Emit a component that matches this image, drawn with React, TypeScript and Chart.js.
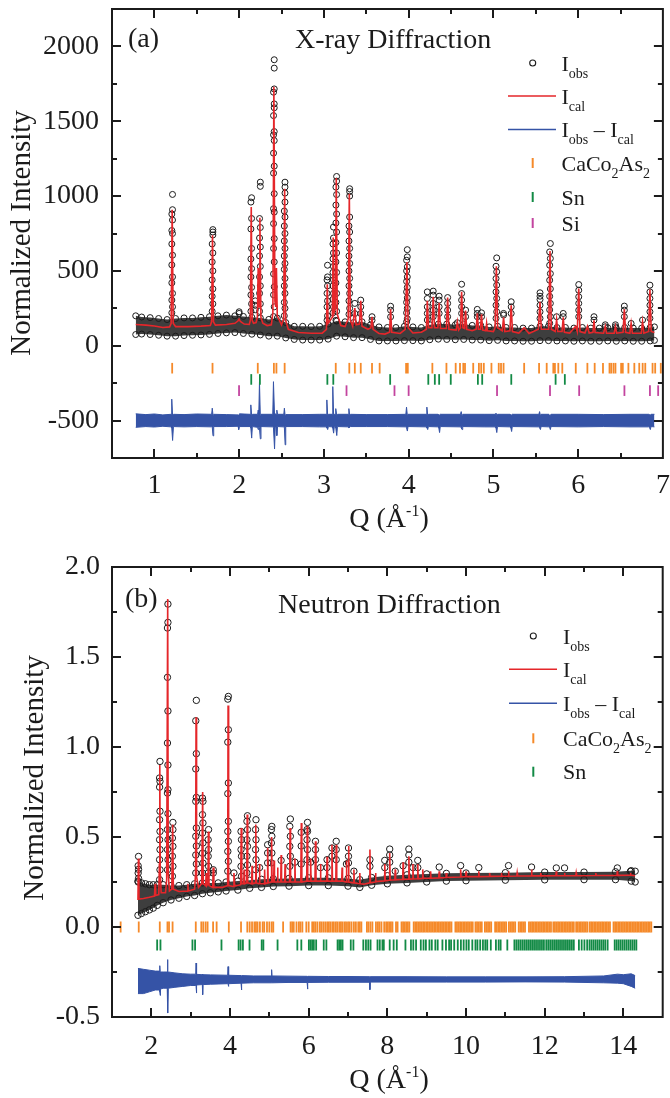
import React, { useEffect, useRef } from "react";
import { Chart, registerables } from "chart.js";

Chart.register(...registerables);

const SERIF = "'Liberation Serif', 'Times New Roman', Times, serif";
const RED = "#e5262a";
const BLUE = "#3553a6";
const ORANGE = "#f58a2a";
const GREEN = "#128a45";
const MAGENTA = "#c3449f";
const INK = "#1b1b1b";
const BAND = "#3e3e3e";

// ---------------- (a) X-ray diffraction ----------------
const xrdQRange = [0.5, 7];
const xrdIRange = [-750, 2250];
const xrdXTicks = [1, 2, 3, 4, 5, 6, 7];
const xrdYTicks = [-500, 0, 500, 1000, 1500, 2000];

// calculated profile [Q, I]
const xrdCalc: [number, number][] = [
  [0.78, 142], [0.9, 138], [1.0, 132], [1.1, 122], [1.18, 126], [1.198, 150], [1.21, 909], [1.222, 150], [1.25, 128],
  [1.4, 128], [1.55, 131], [1.66, 135], [1.675, 160], [1.686, 738], [1.697, 160], [1.72, 138], [1.85, 142], [1.95, 150],
  [1.985, 165], [2.0, 178], [2.015, 162], [2.06, 145], [2.12, 142], [2.132, 170], [2.143, 927], [2.154, 170], [2.17, 150],
  [2.2, 155], [2.215, 190], [2.225, 520], [2.235, 260], [2.245, 856], [2.257, 190], [2.28, 150], [2.33, 135], [2.38, 140],
  [2.398, 220], [2.41, 1731], [2.422, 300], [2.432, 260], [2.44, 520], [2.45, 200], [2.5, 140], [2.525, 180], [2.537, 1049],
  [2.549, 170], [2.58, 110], [2.7, 88], [2.85, 84], [2.98, 84], [3.03, 110], [3.04, 411], [3.05, 150], [3.1, 190], [3.11, 723],
  [3.12, 220], [3.135, 250], [3.146, 1120], [3.158, 210], [3.2, 135], [3.25, 128], [3.287, 180], [3.3, 1016], [3.312, 170],
  [3.34, 130], [3.365, 251], [3.38, 140], [3.42, 145], [3.435, 300], [3.45, 130], [3.52, 110], [3.555, 120], [3.568, 194],
  [3.58, 110], [3.65, 82], [3.72, 78], [3.775, 90], [3.787, 243], [3.8, 90], [3.9, 82], [3.96, 110], [3.98, 560], [3.995, 120],
  [4.05, 85], [4.15, 90], [4.21, 110], [4.22, 300], [4.235, 120], [4.275, 120], [4.29, 327], [4.305, 120], [4.345, 120],
  [4.36, 287], [4.375, 115], [4.445, 115], [4.46, 322], [4.475, 110], [4.56, 105], [4.575, 160], [4.59, 105], [4.612, 120],
  [4.625, 360], [4.64, 120], [4.66, 115], [4.672, 236], [4.685, 110], [4.75, 100], [4.797, 110], [4.81, 216], [4.823, 110],
  [4.847, 110], [4.86, 210], [4.873, 105], [4.91, 100], [4.92, 150], [4.93, 100], [5.0, 95], [5.02, 120], [5.035, 531],
  [5.05, 120], [5.105, 100], [5.12, 190], [5.135, 95], [5.195, 100], [5.21, 271], [5.225, 95], [5.3, 85], [5.363, 120],
  [5.42, 82], [5.53, 110], [5.55, 293], [5.565, 110], [5.653, 110], [5.668, 633], [5.683, 110], [5.73, 95], [5.746, 175],
  [5.76, 95], [5.81, 95], [5.824, 190], [5.838, 90], [5.9, 85], [5.97, 130], [5.99, 95], [6.007, 383], [6.022, 95], [6.08, 85],
  [6.11, 130], [6.13, 85], [6.175, 90], [6.187, 170], [6.2, 88], [6.3, 84], [6.32, 130], [6.335, 84], [6.425, 84], [6.44, 130],
  [6.455, 84], [6.53, 90], [6.545, 243], [6.56, 90], [6.61, 84], [6.625, 150], [6.64, 84], [6.745, 84], [6.76, 160],
  [6.775, 84], [6.832, 95], [6.847, 376], [6.862, 95], [6.9, 88],
];

// observed points on the peaks: [Q, intensities]
const xrdObsCols: [number, number[]][] = [
  [1.206, [220, 305, 420, 540, 680, 770, 880]],
  [1.214, [260, 350, 460, 605, 750, 840, 909, 1011]],
  [1.682, [230, 330, 440, 560, 680]],
  [1.69, [280, 380, 500, 620, 740, 760, 776]],
  [2.0, [216, 227]],
  [2.139, [230, 340, 460, 580, 780, 960]],
  [2.147, [280, 390, 515, 650, 850, 989]],
  [2.19, [240, 270, 300]],
  [2.241, [230, 350, 460, 600, 720, 850]],
  [2.25, [280, 400, 530, 660, 790, 1065, 1093]],
  [2.406, [195, 340, 480, 650, 816, 916, 1153, 1287, 1409, 1538, 1694]],
  [2.414, [260, 394, 560, 716, 893, 1016, 1200, 1371, 1431, 1590, 1616, 1716, 1855, 1911]],
  [2.533, [200, 290, 400, 510, 600, 700, 800, 900]],
  [2.541, [250, 350, 450, 550, 650, 750, 860, 960, 1020, 1060, 1093]],
  [3.037, [170, 260, 350, 440]],
  [3.043, [200, 300, 400, 460, 538]],
  [3.107, [220, 310, 400, 490, 580, 680]],
  [3.113, [260, 350, 440, 530, 620, 720, 793]],
  [3.142, [170, 290, 420, 560, 690, 820, 940, 1060]],
  [3.15, [230, 350, 490, 620, 760, 880, 1010, 1100, 1131]],
  [3.296, [210, 300, 400, 500, 600, 700, 800]],
  [3.304, [250, 350, 450, 550, 650, 760, 860, 1000, 1030, 1049]],
  [3.365, [215, 283]],
  [3.435, [215, 260, 305]],
  [3.568, [170, 194]],
  [3.787, [193, 238, 264]],
  [3.976, [160, 220, 290, 360, 430, 500, 571]],
  [3.984, [180, 250, 320, 390, 460, 527, 594, 642]],
  [4.22, [172, 216, 260, 316, 360]],
  [4.29, [194, 238, 283, 338, 365]],
  [4.36, [216, 260, 305, 331]],
  [4.46, [194, 238, 283, 322]],
  [4.575, [154]],
  [4.625, [216, 260, 305, 349, 411]],
  [4.672, [194, 238]],
  [4.81, [194, 216, 243]],
  [4.86, [194, 220]],
  [5.031, [183, 271, 360, 449, 531]],
  [5.039, [227, 316, 405, 494, 587]],
  [5.12, [205, 216]],
  [5.21, [216, 260, 294]],
  [5.55, [183, 227, 271, 309, 331, 354]],
  [5.664, [150, 240, 330, 438, 538, 627]],
  [5.672, [194, 283, 380, 482, 583, 683]],
  [5.746, [194]],
  [5.824, [194, 216]],
  [6.007, [194, 238, 283, 327, 371, 409]],
  [6.187, [172, 194]],
  [6.32, [127, 140]],
  [6.44, [127, 140]],
  [6.545, [194, 238, 265]],
  [6.625, [149]],
  [6.76, [172]],
  [6.847, [183, 227, 271, 316, 360, 405]],
];

// dense observed band along background: [Q, upper, lower]
const xrdObsBand: [number, number, number][] = [
  [0.78, 200, 75], [0.85, 192, 78], [0.95, 188, 75], [1.05, 182, 70], [1.15, 175, 64], [1.25, 182, 64], [1.35, 186, 68],
  [1.45, 186, 70], [1.55, 190, 72], [1.65, 194, 76], [1.75, 200, 82], [1.85, 205, 86], [1.95, 200, 88], [2.05, 196, 82],
  [2.15, 190, 77], [2.25, 186, 72], [2.35, 176, 64], [2.45, 185, 64], [2.55, 155, 52], [2.65, 130, 42], [2.75, 130, 38],
  [2.85, 128, 38], [2.95, 130, 38], [3.05, 145, 44], [3.15, 165, 64], [3.25, 160, 60], [3.35, 155, 54], [3.45, 160, 54],
  [3.55, 140, 42], [3.65, 126, 32], [3.75, 122, 32], [3.85, 122, 32], [3.95, 130, 34], [4.05, 126, 34], [4.15, 122, 32],
  [4.25, 140, 40], [4.35, 145, 44], [4.45, 145, 42], [4.55, 140, 40], [4.65, 145, 42], [4.75, 136, 38], [4.85, 136, 38],
  [4.95, 126, 34], [5.05, 130, 36], [5.15, 122, 32], [5.25, 122, 32], [5.35, 118, 30], [5.45, 118, 30], [5.55, 130, 34],
  [5.65, 130, 34], [5.75, 122, 32], [5.85, 122, 32], [5.95, 118, 30], [6.05, 122, 32], [6.15, 118, 30], [6.25, 118, 30],
  [6.35, 120, 32], [6.45, 118, 30], [6.55, 122, 32], [6.65, 118, 30], [6.75, 118, 30], [6.85, 122, 32], [6.9, 126, 36],
];

// difference curve band: [Q, upper, lower]
const xrdDiff: [number, number, number][] = [
  [0.78, -455, -545], [0.9, -460, -540], [1.0, -456, -543], [1.1, -462, -538], [1.197, -458, -542], [1.205, -357, -548],
  [1.215, -470, -633], [1.225, -458, -540], [1.35, -460, -542], [1.5, -456, -540], [1.676, -458, -542], [1.683, -417, -545],
  [1.692, -465, -602], [1.7, -458, -540], [1.85, -460, -540], [1.988, -462, -538], [1.995, -470, -560], [2.003, -455, -540],
  [2.13, -458, -540], [2.138, -395, -548], [2.148, -470, -617], [2.156, -458, -540], [2.218, -458, -545], [2.225, -430, -560],
  [2.232, -460, -545], [2.24, -240, -548], [2.25, -470, -622], [2.258, -458, -540], [2.397, -458, -542], [2.405, -240, -548],
  [2.418, -470, -690], [2.426, -455, -545], [2.437, -458, -542], [2.445, -430, -600], [2.453, -458, -540], [2.527, -458, -542],
  [2.534, -417, -548], [2.543, -470, -662], [2.55, -460, -540], [2.75, -460, -540], [2.95, -458, -542], [3.027, -458, -542],
  [3.035, -362, -548], [3.045, -470, -560], [3.053, -458, -540], [3.097, -458, -542], [3.105, -273, -550], [3.115, -470, -584],
  [3.123, -458, -540], [3.133, -458, -542], [3.14, -420, -548], [3.152, -470, -600], [3.16, -458, -540], [3.288, -458, -542],
  [3.295, -420, -548], [3.305, -470, -545], [3.313, -458, -540], [3.5, -460, -540], [3.75, -460, -540], [3.967, -458, -542],
  [3.975, -410, -548], [3.985, -468, -570], [3.993, -458, -540], [4.207, -458, -542], [4.215, -410, -548], [4.225, -468, -560],
  [4.233, -458, -540], [4.347, -458, -542], [4.355, -470, -546], [4.365, -462, -580], [4.373, -458, -540], [4.612, -458, -542],
  [4.62, -440, -548], [4.63, -468, -560], [4.638, -458, -540], [4.9, -458, -542], [5.022, -458, -542], [5.03, -450, -548],
  [5.04, -468, -580], [5.048, -458, -540], [5.197, -458, -542], [5.205, -470, -546], [5.215, -462, -573], [5.223, -458, -540],
  [5.537, -458, -542], [5.545, -440, -548], [5.555, -468, -560], [5.563, -458, -540], [5.656, -458, -542], [5.664, -470, -546],
  [5.672, -462, -560], [5.68, -458, -540], [6.0, -458, -542], [6.3, -460, -540], [6.6, -458, -542], [6.834, -458, -542],
  [6.842, -460, -546], [6.852, -462, -560], [6.86, -458, -540], [6.9, -458, -542],
];

const xrdBraggCaCo2As2 = [
  1.21, 1.686, 2.22, 2.41, 2.44, 2.537, 3.14, 3.3, 3.365, 3.435, 3.568, 3.658, 3.97, 3.99, 4.28, 4.446, 4.555, 4.606,
  4.645, 4.665, 4.762, 4.829, 4.856, 4.887, 4.977, 5.063, 5.09, 5.12, 5.363, 5.539, 5.629, 5.707, 5.726, 5.766, 5.813,
  5.972, 6.109, 6.195, 6.293, 6.37, 6.39, 6.417, 6.44, 6.507, 6.527, 6.593, 6.663, 6.721, 6.761, 6.792, 6.878, 6.909, 6.975,
];
const xrdBraggSn = [2.143, 2.245, 3.041, 3.111, 3.782, 4.232, 4.309, 4.36, 4.497, 4.817, 4.868, 5.211, 5.734, 5.843];
const xrdBraggSi = [1.999, 3.267, 3.833, 4.0, 5.043, 5.668, 6.012, 6.546, 6.847, 6.944];
const xrdBraggLevels = [-150, -225, -300];

// ---------------- (b) Neutron diffraction ----------------
const ndQRange = [1, 15];
const ndIRange = [-0.5, 2.0];
const ndXTicks = [2, 4, 6, 8, 10, 12, 14];
const ndYTicks = [-0.5, 0, 0.5, 1.0, 1.5, 2.0];

const ndCalc: [number, number][] = [
  [1.66, 0.15], [1.672, 0.38], [1.685, 0.155], [1.8, 0.158], [1.95, 0.165], [2.08, 0.172], [2.095, 0.24], [2.11, 0.175],
  [2.19, 0.18], [2.205, 0.35], [2.215, 0.9], [2.227, 0.3], [2.25, 0.19], [2.36, 0.19], [2.39, 0.26], [2.416, 1.822],
  [2.43, 0.3], [2.46, 0.2], [2.52, 0.21], [2.542, 0.57], [2.56, 0.21], [2.7, 0.197], [2.92, 0.2], [2.93, 0.24], [2.94, 0.2],
  [3.1, 0.21], [3.125, 0.3], [3.137, 1.165], [3.15, 0.28], [3.2, 0.22], [3.28, 0.24], [3.305, 0.75], [3.32, 0.24],
  [3.38, 0.23], [3.395, 0.3], [3.41, 0.23], [3.44, 0.24], [3.45, 0.53], [3.465, 0.23], [3.56, 0.22], [3.574, 0.33],
  [3.59, 0.22], [3.8, 0.22], [3.94, 0.23], [3.951, 1.23], [3.965, 0.23], [4.08, 0.225], [4.1, 0.3], [4.12, 0.228],
  [4.27, 0.235], [4.286, 0.55], [4.3, 0.24], [4.35, 0.24], [4.36, 0.32], [4.37, 0.24], [4.425, 0.245], [4.437, 0.625],
  [4.45, 0.245], [4.55, 0.24], [4.56, 0.34], [4.57, 0.24], [4.64, 0.245], [4.655, 0.57], [4.67, 0.245], [4.74, 0.24],
  [4.75, 0.35], [4.76, 0.24], [4.87, 0.24], [4.88, 0.32], [4.89, 0.24], [4.945, 0.245], [4.957, 0.44], [4.97, 0.245],
  [5.045, 0.25], [5.058, 0.5], [5.07, 0.25], [5.11, 0.25], [5.12, 0.37], [5.13, 0.25], [5.2, 0.25], [5.21, 0.33],
  [5.22, 0.25], [5.29, 0.25], [5.3, 0.4], [5.31, 0.25], [5.39, 0.25], [5.4, 0.35], [5.41, 0.25], [5.515, 0.25],
  [5.527, 0.55], [5.54, 0.25], [5.64, 0.25], [5.65, 0.38], [5.66, 0.25], [5.8, 0.25], [5.813, 0.578], [5.826, 0.25],
  [5.95, 0.255], [5.963, 0.56], [5.976, 0.255], [6.04, 0.255], [6.05, 0.38], [6.06, 0.255], [6.16, 0.255], [6.173, 0.476],
  [6.186, 0.255], [6.29, 0.255], [6.3, 0.35], [6.31, 0.255], [6.455, 0.255], [6.467, 0.39], [6.48, 0.255], [6.58, 0.255],
  [6.592, 0.457], [6.605, 0.255], [6.69, 0.255], [6.701, 0.457], [6.713, 0.255], [6.84, 0.255], [6.85, 0.33], [6.86, 0.255],
  [6.95, 0.25], [6.96, 0.37], [6.97, 0.25], [7.0, 0.25], [7.012, 0.45], [7.025, 0.25], [7.14, 0.245], [7.15, 0.32],
  [7.16, 0.245], [7.29, 0.24], [7.3, 0.3], [7.31, 0.24], [7.4, 0.238], [7.545, 0.245], [7.557, 0.43], [7.57, 0.245],
  [7.69, 0.25], [7.7, 0.3], [7.71, 0.252], [7.92, 0.256], [7.934, 0.35], [7.948, 0.256], [8.048, 0.26], [8.06, 0.411],
  [8.072, 0.26], [8.19, 0.262], [8.2, 0.32], [8.21, 0.262], [8.39, 0.265], [8.4, 0.36], [8.41, 0.265], [8.535, 0.266],
  [8.547, 0.393], [8.56, 0.266], [8.64, 0.267], [8.65, 0.35], [8.66, 0.267], [8.76, 0.268], [8.773, 0.35], [8.786, 0.268],
  [8.89, 0.27], [8.9, 0.32], [8.91, 0.27], [9.09, 0.271], [9.1, 0.31], [9.11, 0.271], [9.305, 0.273], [9.318, 0.31],
  [9.33, 0.273], [9.49, 0.275], [9.5, 0.3], [9.51, 0.275], [9.85, 0.278], [9.863, 0.32], [9.876, 0.278], [9.99, 0.28],
  [10.0, 0.31], [10.01, 0.28], [10.315, 0.28], [10.325, 0.31], [10.335, 0.28], [10.59, 0.281], [10.6, 0.3], [10.61, 0.281],
  [10.89, 0.282], [10.9, 0.3], [10.91, 0.282], [11.07, 0.282], [11.08, 0.31], [11.09, 0.282], [11.29, 0.283], [11.3, 0.3],
  [11.31, 0.283], [11.655, 0.284], [11.666, 0.32], [11.677, 0.284], [11.89, 0.284], [11.9, 0.3], [11.91, 0.284],
  [12.285, 0.285], [12.295, 0.31], [12.305, 0.285], [12.495, 0.285], [12.505, 0.3], [12.515, 0.285], [12.79, 0.285],
  [12.8, 0.3], [12.81, 0.285], [13.29, 0.286], [13.3, 0.3], [13.31, 0.286], [13.837, 0.287], [13.847, 0.31], [13.857, 0.287],
  [14.17, 0.288], [14.18, 0.3], [14.19, 0.288], [14.3, 0.285],
];

const ndObsCols: [number, number[]][] = [
  [1.665, [0.25, 0.3, 0.34]], [1.675, [0.27, 0.32, 0.392]],
  [2.21, [0.263, 0.374, 0.485, 0.596, 0.777, 0.828]], [2.22, [0.318, 0.43, 0.531, 0.643, 0.809, 0.92]],
  [2.41, [0.318, 0.43, 0.541, 0.744, 1.022, 1.387, 1.661]], [2.422, [0.374, 0.485, 0.63, 0.763, 0.9, 1.2, 1.692, 1.794]],
  [2.536, [0.282, 0.393, 0.494]], [2.548, [0.337, 0.448, 0.541, 0.581]],
  [3.13, [0.3, 0.4, 0.504, 0.698, 0.878, 1.146]], [3.144, [0.35, 0.45, 0.55, 0.72, 0.963, 1.259]],
  [3.3, [0.3, 0.41, 0.522, 0.624, 0.716]], [3.312, [0.355, 0.467, 0.578, 0.698]],
  [3.445, [0.3, 0.393, 0.485]], [3.455, [0.337, 0.43, 0.541]],
  [3.574, [0.3, 0.318]],
  [3.944, [0.31, 0.42, 0.531, 0.741, 1.027, 1.266]], [3.958, [0.365, 0.476, 0.587, 0.8, 1.096, 1.281]],
  [4.1, [0.3]],
  [4.28, [0.337, 0.43, 0.531]], [4.292, [0.282, 0.393, 0.485]],
  [4.43, [0.3, 0.393, 0.485, 0.587]], [4.444, [0.345, 0.448, 0.541, 0.618]],
  [4.65, [0.318, 0.43, 0.541]], [4.66, [0.374, 0.485, 0.596]],
  [4.75, [0.33]],
  [4.957, [0.356, 0.411, 0.457]],
  [5.052, [0.356, 0.467, 0.541]], [5.064, [0.411, 0.504, 0.559]],
  [5.3, [0.37]],
  [5.52, [0.337, 0.448, 0.559]], [5.534, [0.393, 0.504, 0.6]],
  [5.65, [0.36]],
  [5.81, [0.35, 0.45, 0.526]],
  [5.958, [0.374, 0.485, 0.541]], [5.97, [0.43, 0.531, 0.581]],
  [6.05, [0.36]],
  [6.173, [0.374, 0.43, 0.476]],
  [6.3, [0.33]],
  [6.467, [0.33, 0.374]],
  [6.592, [0.393, 0.439]],
  [6.7, [0.374, 0.43, 0.476]],
  [6.96, [0.35]],
  [7.012, [0.356, 0.393, 0.439]],
  [7.15, [0.31]],
  [7.557, [0.337, 0.374]],
  [7.934, [0.33, 0.37]],
  [8.06, [0.36, 0.4, 0.433]],
  [8.2, [0.31]],
  [8.4, [0.34]],
  [8.547, [0.36, 0.4, 0.433]],
  [8.65, [0.33]],
  [8.773, [0.33, 0.37]],
  [9.318, [0.333]],
  [9.863, [0.341]],
  [10.325, [0.33]],
  [11.08, [0.341]],
  [11.666, [0.333]],
  [12.295, [0.328]],
  [12.505, [0.328]],
  [13.847, [0.328]],
  [14.18, [0.309]],
];

const ndObsBand: [number, number, number][] = [
  [1.66, 0.255, 0.065], [1.75, 0.245, 0.075], [1.85, 0.24, 0.085], [1.95, 0.235, 0.095], [2.05, 0.235, 0.105], [2.15, 0.235, 0.12],
  [2.3, 0.235, 0.135], [2.5, 0.23, 0.15], [2.7, 0.23, 0.16], [2.9, 0.235, 0.17], [3.1, 0.24, 0.175], [3.3, 0.245, 0.185],
  [3.5, 0.245, 0.19], [3.7, 0.245, 0.195], [3.9, 0.25, 0.2], [4.2, 0.255, 0.205], [4.5, 0.26, 0.215], [4.8, 0.265, 0.22],
  [5.1, 0.268, 0.225], [5.5, 0.27, 0.227], [6.0, 0.273, 0.23], [6.5, 0.273, 0.23], [7.0, 0.27, 0.227], [7.3, 0.263, 0.22],
  [7.6, 0.275, 0.232], [8.0, 0.285, 0.24], [8.5, 0.29, 0.245], [9.0, 0.295, 0.25], [9.5, 0.298, 0.255], [10.0, 0.3, 0.257],
  [11.0, 0.302, 0.26], [12.0, 0.305, 0.262], [13.0, 0.305, 0.263], [13.8, 0.307, 0.263], [14.2, 0.313, 0.255], [14.3, 0.31, 0.25],
];

const ndDiff: [number, number, number][] = [
  [1.66, -0.23, -0.37], [1.8, -0.235, -0.37], [1.95, -0.24, -0.36], [2.1, -0.245, -0.35], [2.207, -0.245, -0.35],
  [2.215, -0.215, -0.36], [2.225, -0.25, -0.38], [2.233, -0.25, -0.345], [2.3, -0.25, -0.34], [2.404, -0.25, -0.34],
  [2.412, -0.181, -0.35], [2.42, -0.26, -0.478], [2.43, -0.25, -0.34], [2.6, -0.255, -0.335], [2.8, -0.26, -0.33],
  [3.0, -0.262, -0.325], [3.129, -0.262, -0.325], [3.137, -0.2, -0.33], [3.145, -0.27, -0.367], [3.155, -0.263, -0.322],
  [3.287, -0.265, -0.32], [3.297, -0.262, -0.325], [3.305, -0.27, -0.376], [3.315, -0.265, -0.32], [3.5, -0.266, -0.318],
  [3.94, -0.268, -0.315], [3.95, -0.22, -0.318], [3.96, -0.27, -0.33], [3.97, -0.268, -0.315], [4.28, -0.27, -0.312],
  [4.29, -0.275, -0.35], [4.3, -0.27, -0.312], [4.6, -0.272, -0.31], [5.048, -0.272, -0.31], [5.058, -0.237, -0.31],
  [5.068, -0.272, -0.31], [5.5, -0.273, -0.308], [5.96, -0.274, -0.308], [5.97, -0.276, -0.345], [5.98, -0.274, -0.308],
  [6.5, -0.275, -0.307], [7.0, -0.275, -0.307], [7.547, -0.276, -0.307], [7.557, -0.28, -0.348], [7.567, -0.276, -0.306],
  [8.5, -0.276, -0.306], [9.5, -0.277, -0.306], [10.5, -0.277, -0.306], [11.5, -0.277, -0.305], [12.5, -0.276, -0.306],
  [13.5, -0.272, -0.31], [13.85, -0.262, -0.312], [14.0, -0.265, -0.315], [14.2, -0.26, -0.33], [14.3, -0.27, -0.34],
];

const ndBraggCaCo2As2 = [
  1.22, 1.68, 2.215, 2.41, 2.45, 2.54, 3.13, 3.27, 3.32, 3.38, 3.43, 3.57, 3.66, 3.97, 4.28, 4.44, 4.5, 4.56, 4.62, 4.66,
  4.7, 4.76, 4.83, 4.87, 4.94, 5.0, 5.06, 5.1, 5.35, 5.54, 5.58, 5.62, 5.69, 5.75, 5.79, 5.84, 5.94, 6.0, 6.09, 6.13, 6.17,
  6.22, 6.28, 6.32, 6.37, 6.42, 6.47, 6.51, 6.55, 6.6, 6.64, 6.69, 6.73, 6.78, 6.82, 6.86, 6.91, 6.95, 7.0, 7.04, 7.09,
  7.15, 7.2, 7.26, 7.3, 7.34, 7.48, 7.52, 7.57, 7.62, 7.71, 7.76, 7.8, 7.85, 7.92, 7.97, 8.01, 8.05, 8.09, 8.13, 8.22,
  8.26, 8.36, 8.4, 8.44, 8.48, 8.52, 8.56, 8.67, 8.71, 8.75, 8.79, 8.83, 8.87, 8.91, 8.95, 8.99, 9.03, 9.07, 9.11, 9.15,
  9.19, 9.23, 9.27, 9.31, 9.35, 9.39, 9.43, 9.47, 9.51, 9.55, 9.59, 9.63, 9.73, 9.77, 9.81, 9.85, 9.89, 9.93, 9.97, 10.01,
  10.05, 10.09, 10.13, 10.17, 10.24, 10.28, 10.32, 10.36, 10.4, 10.48, 10.52, 10.56, 10.6, 10.64, 10.74, 10.78, 10.82,
  10.86, 10.9, 10.94, 10.98, 11.02, 11.09, 11.13, 11.17, 11.21, 11.25, 11.34, 11.38, 11.42, 11.46, 11.5, 11.6, 11.64,
  11.68, 11.72, 11.76, 11.8, 11.84, 11.88, 11.92, 11.96, 12.0, 12.04, 12.08, 12.12, 12.16, 12.22, 12.26, 12.3, 12.34,
  12.38, 12.42, 12.46, 12.5, 12.54, 12.58, 12.62, 12.66, 12.7, 12.74, 12.8, 12.84, 12.88, 12.92, 12.96, 13.0, 13.04,
  13.08, 13.14, 13.18, 13.22, 13.26, 13.3, 13.34, 13.38, 13.42, 13.46, 13.5, 13.54, 13.58, 13.62, 13.66, 13.75, 13.79,
  13.83, 13.87, 13.91, 13.95, 13.99, 14.03, 14.07, 14.11, 14.15, 14.19, 14.23, 14.27, 14.31, 14.35, 14.39, 14.43, 14.47,
  14.51, 14.55, 14.59, 14.63, 14.67, 14.71,
];
const ndBraggSn = [
  2.148, 2.232, 3.045, 3.112, 3.783, 4.219, 4.27, 4.328, 4.496, 4.806, 4.848, 5.209, 5.712, 5.813, 6.005, 6.047, 6.089,
  6.131, 6.19, 6.383, 6.45, 6.735, 6.777, 6.819, 6.861, 7.07, 7.137, 7.389, 7.456, 7.515, 7.573, 7.75, 7.808, 7.875,
  7.91, 8.06, 8.16, 8.24, 8.46, 8.6, 8.66, 8.73, 8.85, 8.92, 8.98, 9.07, 9.13, 9.22, 9.28, 9.4, 9.49, 9.57, 9.62, 9.7,
  9.79, 9.87, 9.94, 10.01, 10.07, 10.16, 10.24, 10.29, 10.36, 10.43, 10.49, 10.54, 10.63, 10.76, 10.83, 10.88, 11.05,
  11.23, 11.28, 11.33, 11.38, 11.43, 11.48, 11.53, 11.58, 11.63, 11.68, 11.73, 11.78, 11.83, 11.88, 11.93, 11.98, 12.04,
  12.09, 12.14, 12.19, 12.24, 12.29, 12.34, 12.39, 12.44, 12.49, 12.54, 12.59, 12.64, 12.69, 12.74, 12.87, 12.94, 13.01,
  13.08, 13.14, 13.19, 13.24, 13.29, 13.34, 13.39, 13.44, 13.49, 13.54, 13.6, 13.78, 13.83, 13.88, 13.93, 13.98, 14.03,
  14.08, 14.13, 14.18, 14.23, 14.28, 14.33,
];
const ndBraggLevels = [0, -0.1];

// ---------------- panel specs ----------------
type Part = [string, "n" | "sub" | "sup"];
interface LegendRow { kind: "circle" | "line" | "tick"; color: string; y: number; parts: Part[] }
interface Panel {
  height: number; padTop: number; plotBottom: number; padRight: number; yAxisW: number;
  xMin: number; xMax: number; yMin: number; yMax: number;
  xTicks: number[]; yTicks: number[]; xMinor: number; yMinor: number; yFmt: (v: number) => string;
  xPad: number; yPad: number;
  calc: [number, number][]; cols: [number, number[]][]; band: [number, number, number][]; diff: [number, number, number][];
  bragg: { pos: number[]; level: number; color: string }[];
  ptR: number; tickR: number;
  label: string; labelX: number; labelY: number; title: string; titleX: number; titleY: number;
  legend: LegendRow[]; legSymX: number; legLineX: [number, number]; legTextX: number;
  yTitleX: number; yTitleY: number; xTitleX: number; xTitleY: number;
}

const obsParts: Part[] = [["I", "n"], ["obs", "sub"]];
const calParts: Part[] = [["I", "n"], ["cal", "sub"]];
const diffParts: Part[] = [["I", "n"], ["obs", "sub"], [" \u2013 I", "n"], ["cal", "sub"]];
const phaseParts: Part[] = [["CaCo", "n"], ["2", "sub"], ["As", "n"], ["2", "sub"]];

const xrdPanel: Panel = {
  height: 549, padTop: 9, plotBottom: 458, padRight: 3, yAxisW: 112,
  xMin: xrdQRange[0], xMax: xrdQRange[1], yMin: xrdIRange[0], yMax: xrdIRange[1],
  xTicks: xrdXTicks, yTicks: xrdYTicks, xMinor: 0.5, yMinor: 250, yFmt: (v) => String(v),
  xPad: 11, yPad: 13,
  calc: xrdCalc, cols: xrdObsCols, band: xrdObsBand, diff: xrdDiff,
  bragg: [
    { pos: xrdBraggCaCo2As2, level: xrdBraggLevels[0], color: ORANGE },
    { pos: xrdBraggSn, level: xrdBraggLevels[1], color: GREEN },
    { pos: xrdBraggSi, level: xrdBraggLevels[2], color: MAGENTA },
  ],
  ptR: 3, tickR: 5.3,
  label: "(a)", labelX: 128, labelY: 47, title: "X-ray Diffraction", titleX: 295, titleY: 48,
  legend: [
    { kind: "circle", color: INK, y: 63, parts: obsParts },
    { kind: "line", color: RED, y: 96, parts: calParts },
    { kind: "line", color: BLUE, y: 129.5, parts: diffParts },
    { kind: "tick", color: ORANGE, y: 163, parts: phaseParts },
    { kind: "tick", color: GREEN, y: 197, parts: [["Sn", "n"]] },
    { kind: "tick", color: MAGENTA, y: 223, parts: [["Si", "n"]] },
  ],
  legSymX: 532.7, legLineX: [508, 556], legTextX: 561.5,
  yTitleX: 22, yTitleY: 233, xTitleX: 389, xTitleY: 527,
};

const ndPanel: Panel = {
  height: 549, padTop: 18, plotBottom: 468, padRight: 3, yAxisW: 112,
  xMin: ndQRange[0], xMax: ndQRange[1], yMin: ndIRange[0], yMax: ndIRange[1],
  xTicks: ndXTicks, yTicks: ndYTicks, xMinor: 1, yMinor: 0.25, yFmt: (v) => v.toFixed(1),
  xPad: 13, yPad: 12,
  calc: ndCalc, cols: ndObsCols, band: ndObsBand, diff: ndDiff,
  bragg: [
    { pos: ndBraggCaCo2As2, level: ndBraggLevels[0], color: ORANGE },
    { pos: ndBraggSn, level: ndBraggLevels[1], color: GREEN },
  ],
  ptR: 3.2, tickR: 5.5,
  label: "(b)", labelX: 125, labelY: 57.5, title: "Neutron Diffraction", titleX: 278, titleY: 64,
  legend: [
    { kind: "circle", color: INK, y: 87, parts: obsParts },
    { kind: "line", color: RED, y: 120.3, parts: calParts },
    { kind: "line", color: BLUE, y: 154.3, parts: diffParts },
    { kind: "tick", color: ORANGE, y: 189.3, parts: phaseParts },
    { kind: "tick", color: GREEN, y: 222.7, parts: [["Sn", "n"]] },
  ],
  legSymX: 533.3, legLineX: [509, 557], legTextX: 563,
  yTitleX: 35, yTitleY: 229, xTitleX: 389, xTitleY: 539,
};

// ---------------- drawing helpers ----------------
function partsWidth(ctx: CanvasRenderingContext2D, parts: Part[], size: number, small: number) {
  let w = 0;
  for (const [t, k] of parts) {
    ctx.font = `${k === "n" ? size : small}px ${SERIF}`;
    w += ctx.measureText(t).width;
  }
  return w;
}
function drawParts(ctx: CanvasRenderingContext2D, x: number, base: number, parts: Part[], size: number, small: number, subDy: number, supDy: number) {
  let cx = x;
  ctx.textAlign = "left";
  ctx.textBaseline = "alphabetic";
  for (const [t, k] of parts) {
    ctx.font = `${k === "n" ? size : small}px ${SERIF}`;
    const dy = k === "sub" ? subDy : k === "sup" ? -supDy : 0;
    ctx.fillText(t, cx, base + dy);
    cx += ctx.measureText(t).width;
  }
}

function decorPlugin(p: Panel) {
  return {
    id: "decor",
    afterDraw(chart: any) {
      const ctx: CanvasRenderingContext2D = chart.ctx;
      const a = chart.chartArea;
      const xs = chart.scales.x;
      const ys = chart.scales.y;
      ctx.save();
      ctx.strokeStyle = INK;
      ctx.lineWidth = 2;
      ctx.strokeRect(a.left, a.top, a.right - a.left, a.bottom - a.top);
      const near = (u: number, list: number[], eps: number) => list.some((t) => Math.abs(t - u) < eps);
      ctx.beginPath();
      const xMinors: number[] = [];
      for (let k = Math.ceil(p.xMin / p.xMinor); k * p.xMinor <= p.xMax + 1e-9; k++) xMinors.push(+(k * p.xMinor).toFixed(6));
      for (const v of xMinors) {
        if (Math.abs(v - p.xMin) < 1e-6 || Math.abs(v - p.xMax) < 1e-6) continue;
        const L = near(v, p.xTicks, 1e-6) ? 9 : 5;
        const px = Math.round(xs.getPixelForValue(v));
        ctx.moveTo(px, a.bottom); ctx.lineTo(px, a.bottom - L);
        ctx.moveTo(px, a.top); ctx.lineTo(px, a.top + L);
      }
      const yMinors: number[] = [];
      for (let k = Math.ceil(p.yMin / p.yMinor); k * p.yMinor <= p.yMax + 1e-9; k++) yMinors.push(+(k * p.yMinor).toFixed(6));
      for (const v of yMinors) {
        if (Math.abs(v - p.yMin) < 1e-6 || Math.abs(v - p.yMax) < 1e-6) continue;
        const L = near(v, p.yTicks, 1e-6) ? 9 : 5;
        const py = Math.round(ys.getPixelForValue(v));
        ctx.moveTo(a.left, py); ctx.lineTo(a.left + L, py);
        ctx.moveTo(a.right, py); ctx.lineTo(a.right - L, py);
      }
      ctx.stroke();

      ctx.fillStyle = INK;
      ctx.font = `28px ${SERIF}`;
      ctx.textAlign = "left";
      ctx.textBaseline = "alphabetic";
      ctx.fillText(p.label, p.labelX, p.labelY);
      ctx.fillText(p.title, p.titleX, p.titleY);

      for (const r of p.legend) {
        ctx.strokeStyle = r.color;
        if (r.kind === "circle") {
          ctx.lineWidth = 1.1;
          ctx.beginPath();
          ctx.arc(p.legSymX, r.y, 3, 0, Math.PI * 2);
          ctx.stroke();
        } else if (r.kind === "line") {
          ctx.lineWidth = 1.6;
          ctx.beginPath();
          ctx.moveTo(p.legLineX[0], r.y); ctx.lineTo(p.legLineX[1], r.y);
          ctx.stroke();
        } else {
          ctx.lineWidth = 2;
          ctx.beginPath();
          ctx.moveTo(p.legSymX, r.y - 5); ctx.lineTo(p.legSymX, r.y + 5);
          ctx.stroke();
        }
        ctx.fillStyle = INK;
        drawParts(ctx, p.legTextX, r.y + 7.5, r.parts, 22, 14, 7.3, 0);
      }

      ctx.save();
      ctx.translate(p.yTitleX, p.yTitleY);
      ctx.rotate(-Math.PI / 2);
      ctx.font = `29px ${SERIF}`;
      ctx.textAlign = "center";
      ctx.textBaseline = "middle";
      ctx.fillText("Normalized Intensity", 0, 0);
      ctx.restore();

      const xt: Part[] = [["Q (\u00C5", "n"], ["-1", "sup"], [")", "n"]];
      const w = partsWidth(ctx, xt, 28, 16);
      drawParts(ctx, p.xTitleX - w / 2, p.xTitleY, xt, 28, 16, 0, 11);
      ctx.restore();
    },
  };
}

function buildConfig(p: Panel): any {
  const pt = (x: number, y: number) => ({ x, y });
  const edgePts = { pointRadius: p.ptR, pointBorderWidth: 1, pointBorderColor: INK, pointBackgroundColor: "rgba(255,255,255,0)" };
  const datasets: any[] = [
    { data: p.band.map(([q, , lo]) => pt(q, lo)), showLine: true, borderWidth: 0, borderColor: "rgba(0,0,0,0)", fill: false, order: 10, ...edgePts },
    { data: p.band.map(([q, hi]) => pt(q, hi)), showLine: true, borderWidth: 0, borderColor: "rgba(0,0,0,0)", fill: "-1", backgroundColor: BAND, order: 10, ...edgePts },
    { data: p.cols.flatMap(([q, vs]) => vs.map((v) => pt(q, v))), showLine: false, order: 8, ...edgePts },
    { data: p.calc.map(([q, v]) => pt(q, v)), showLine: true, borderColor: RED, borderWidth: 1.6, pointRadius: 0, fill: false, order: 6 },
    { data: p.diff.map(([q, , lo]) => pt(q, lo)), showLine: true, borderColor: BLUE, borderWidth: 1, pointRadius: 0, fill: false, order: 5 },
    { data: p.diff.map(([q, hi]) => pt(q, hi)), showLine: true, borderColor: BLUE, borderWidth: 1, pointRadius: 0, fill: "-1", backgroundColor: BLUE, order: 5 },
    ...p.bragg.map((b) => ({
      data: b.pos.map((q) => pt(q, b.level)), showLine: false, pointStyle: "line", pointRotation: 90, pointRadius: p.tickR,
      pointBorderWidth: 1.8, pointBorderColor: b.color, borderColor: b.color, order: 4,
    })),
  ];
  const tickFont = { family: SERIF, size: 28 };
  return {
    type: "scatter",
    data: { datasets },
    options: {
      animation: false,
      responsive: false,
      maintainAspectRatio: false,
      events: [],
      layout: { padding: { top: p.padTop, right: p.padRight, left: 0, bottom: 0 } },
      plugins: { legend: { display: false }, tooltip: { enabled: false }, title: { display: false } },
      elements: { line: { tension: 0 } },
      scales: {
        x: {
          type: "linear", position: "bottom", min: p.xMin, max: p.xMax,
          grid: { display: false, drawTicks: false }, border: { display: false },
          ticks: { font: tickFont, color: INK, padding: p.xPad, maxRotation: 0, minRotation: 0, autoSkip: false, callback: (v: any) => String(v) },
          afterBuildTicks: (s: any) => { s.ticks = p.xTicks.map((v) => ({ value: v })); },
          afterFit: (s: any) => { s.height = p.height - p.plotBottom; s.paddingLeft = 0; s.paddingRight = 0; },
        },
        y: {
          type: "linear", position: "left", min: p.yMin, max: p.yMax,
          grid: { display: false, drawTicks: false }, border: { display: false },
          ticks: { font: tickFont, color: INK, padding: p.yPad, autoSkip: false, callback: (v: any) => p.yFmt(Number(v)) },
          afterBuildTicks: (s: any) => { s.ticks = p.yTicks.map((v) => ({ value: v })); },
          afterFit: (s: any) => { s.width = p.yAxisW; s.paddingTop = 0; s.paddingBottom = 0; },
        },
      },
    },
    plugins: [decorPlugin(p)],
  };
}

export default function App() {
  const topRef = useRef<HTMLCanvasElement>(null);
  const botRef = useRef<HTMLCanvasElement>(null);
  useEffect(() => {
    const c1 = new Chart(topRef.current as HTMLCanvasElement, buildConfig(xrdPanel));
    const c2 = new Chart(botRef.current as HTMLCanvasElement, buildConfig(ndPanel));
    return () => {
      c1.destroy();
      c2.destroy();
    };
  }, []);
  return (
    <div style={{ position: "absolute", left: 0, top: 0, width: 670, height: 1098, background: "#fff" }}>
      <canvas ref={topRef} width={670} height={549} style={{ position: "absolute", left: 0, top: 0, width: 670, height: 549 }} />
      <canvas ref={botRef} width={670} height={549} style={{ position: "absolute", left: 0, top: 549, width: 670, height: 549 }} />
    </div>
  );
}
